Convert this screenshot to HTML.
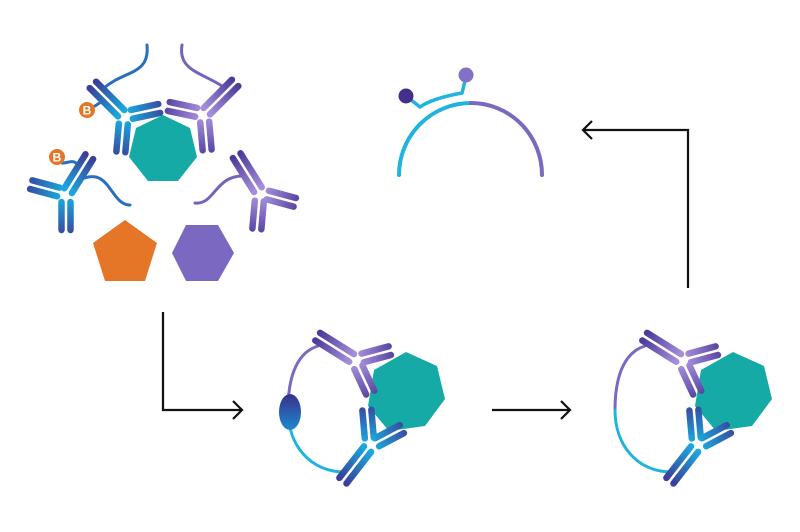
<!DOCTYPE html>
<html><head><meta charset="utf-8"><style>html,body{margin:0;padding:0;background:#fff}svg{display:block}</style></head>
<body>
<svg width="800" height="532" viewBox="0 0 800 532" xmlns="http://www.w3.org/2000/svg">
<defs>
<linearGradient id="gb" gradientUnits="userSpaceOnUse" x1="4" y1="0" x2="44" y2="0"><stop offset="0" stop-color="#1aa9dd"/><stop offset="1" stop-color="#3b3e9a"/></linearGradient>
<linearGradient id="gp" gradientUnits="userSpaceOnUse" x1="4" y1="0" x2="44" y2="0"><stop offset="0" stop-color="#a58fdc"/><stop offset="1" stop-color="#4d3b9a"/></linearGradient>
<linearGradient id="ge" x1="0" y1="0" x2="0" y2="1"><stop offset="0" stop-color="#3b2f8a"/><stop offset="1" stop-color="#1a8ad0"/></linearGradient>
<g id="bL" stroke="url(#gb)" stroke-width="6.5" stroke-linecap="round"><line x1="4" y1="-4.5" x2="44" y2="-4.5"/><line x1="4" y1="4.5" x2="44" y2="4.5"/></g>
<g id="bS" stroke="url(#gb)" stroke-width="6.5" stroke-linecap="round"><line x1="8" y1="-4.5" x2="36" y2="-4.5"/><line x1="8" y1="4.5" x2="36" y2="4.5"/></g>
<g id="pL" stroke="url(#gp)" stroke-width="6.5" stroke-linecap="round"><line x1="4" y1="-4.5" x2="44" y2="-4.5"/><line x1="4" y1="4.5" x2="44" y2="4.5"/></g>
<g id="pS" stroke="url(#gp)" stroke-width="6.5" stroke-linecap="round"><line x1="8" y1="-4.5" x2="36" y2="-4.5"/><line x1="8" y1="4.5" x2="36" y2="4.5"/></g>
</defs>

<polygon points="163,115 190,128 197,157 178,181 148,181 129,157 136,128" fill="#16aaa6"/>
<polygon points="125,220 157,243 145,281 105,281 93,243" fill="#e67627"/>
<polygon points="186,225 218,225 234,253 218,281 186,281 172,253" fill="#7b68c1"/>

<g fill="none" stroke-width="3" stroke-linecap="round">
<path d="M104,88 C125,70 150,75 147,45" stroke="#2a6fbf"/>
<path d="M222,86 C200,72 178,70 182,45" stroke="#7563bb"/>
<path d="M80,180 C110,165 110,205 130,205" stroke="#2a6fbf"/>
<path d="M244,176 C215,175 215,205 195,203" stroke="#7563bb"/>
<path d="M95,106 L104,100" stroke="#2a6fbf"/>
<path d="M62,163 C68,163 72,160 76,163" stroke="#2a6fbf"/>
</g>

<g transform="translate(124,116)"><use href="#bL" transform="rotate(-135)"/><use href="#bS" transform="rotate(-12)"/><use href="#bS" transform="rotate(95)"/></g>
<g transform="translate(204,114)"><use href="#pL" transform="rotate(-45)"/><use href="#pS" transform="rotate(192)"/><use href="#pS" transform="rotate(85)"/></g>
<g transform="translate(66,194)"><use href="#bL" transform="rotate(-58)"/><use href="#bS" transform="rotate(195)"/><use href="#bS" transform="rotate(90)"/></g>
<g transform="translate(260,193)"><use href="#pL" transform="rotate(-122)"/><use href="#pS" transform="rotate(15)"/><use href="#pS" transform="rotate(95)"/></g>

<circle cx="87" cy="110" r="8" fill="#e67627"/><text x="87" y="114.5" font-family="Liberation Sans, sans-serif" font-weight="bold" font-size="12" fill="#fff" text-anchor="middle">B</text>
<circle cx="57" cy="157" r="8" fill="#e67627"/><text x="57" y="161.5" font-family="Liberation Sans, sans-serif" font-weight="bold" font-size="12" fill="#fff" text-anchor="middle">B</text>

<g fill="none" stroke-width="4" stroke-linecap="round">
<path d="M399,175 A72,72 0 0 1 471,103" stroke="#1fb3dd"/>
<path d="M471,103 A71,72 0 0 1 542,175" stroke="#7b68c1"/>
<path d="M406,96 L420,107 C430,100 445,96 462,93 L466,77" stroke="#1fb3dd" stroke-width="3.5"/>
</g>
<circle cx="406" cy="96" r="7.5" fill="#442f8c"/>
<circle cx="466" cy="75" r="7.5" fill="#8371c6"/>

<g id="cx">
<g fill="none" stroke-width="3" stroke-linecap="round">
<path d="M318,346 C298,352 288,375 288,410" stroke="#7b68c1"/>
<path d="M288,410 C288,445 310,472 345,472" stroke="#1fb3dd"/>
</g>
<polygon points="406,352 437,366 445,399 425,426 389,431 368,406 374,370" fill="#16aaa6"/>
<g transform="translate(355,360)"><use href="#pL" transform="rotate(-148)"/><use href="#pS" transform="rotate(-15)"/><use href="#pS" transform="rotate(65)"/></g>
<g transform="translate(370,446)"><use href="#bS" transform="rotate(-95)"/><use href="#bL" transform="rotate(128)"/><use href="#bS" transform="rotate(-28)"/></g>
</g>
<ellipse cx="290" cy="412" rx="11" ry="18" fill="url(#ge)"/>
<use href="#cx" transform="translate(327,0)"/>

<g fill="none" stroke="#111" stroke-width="2.2">
<path d="M163,312 V410 H242"/><path d="M233,401 L242,410 L233,419"/>
<path d="M492,410 H570"/><path d="M561,401 L570,410 L561,419"/>
<path d="M688,288 V130 H583"/><path d="M592,121 L583,130 L592,139"/>
</g>
</svg>
</body></html>
